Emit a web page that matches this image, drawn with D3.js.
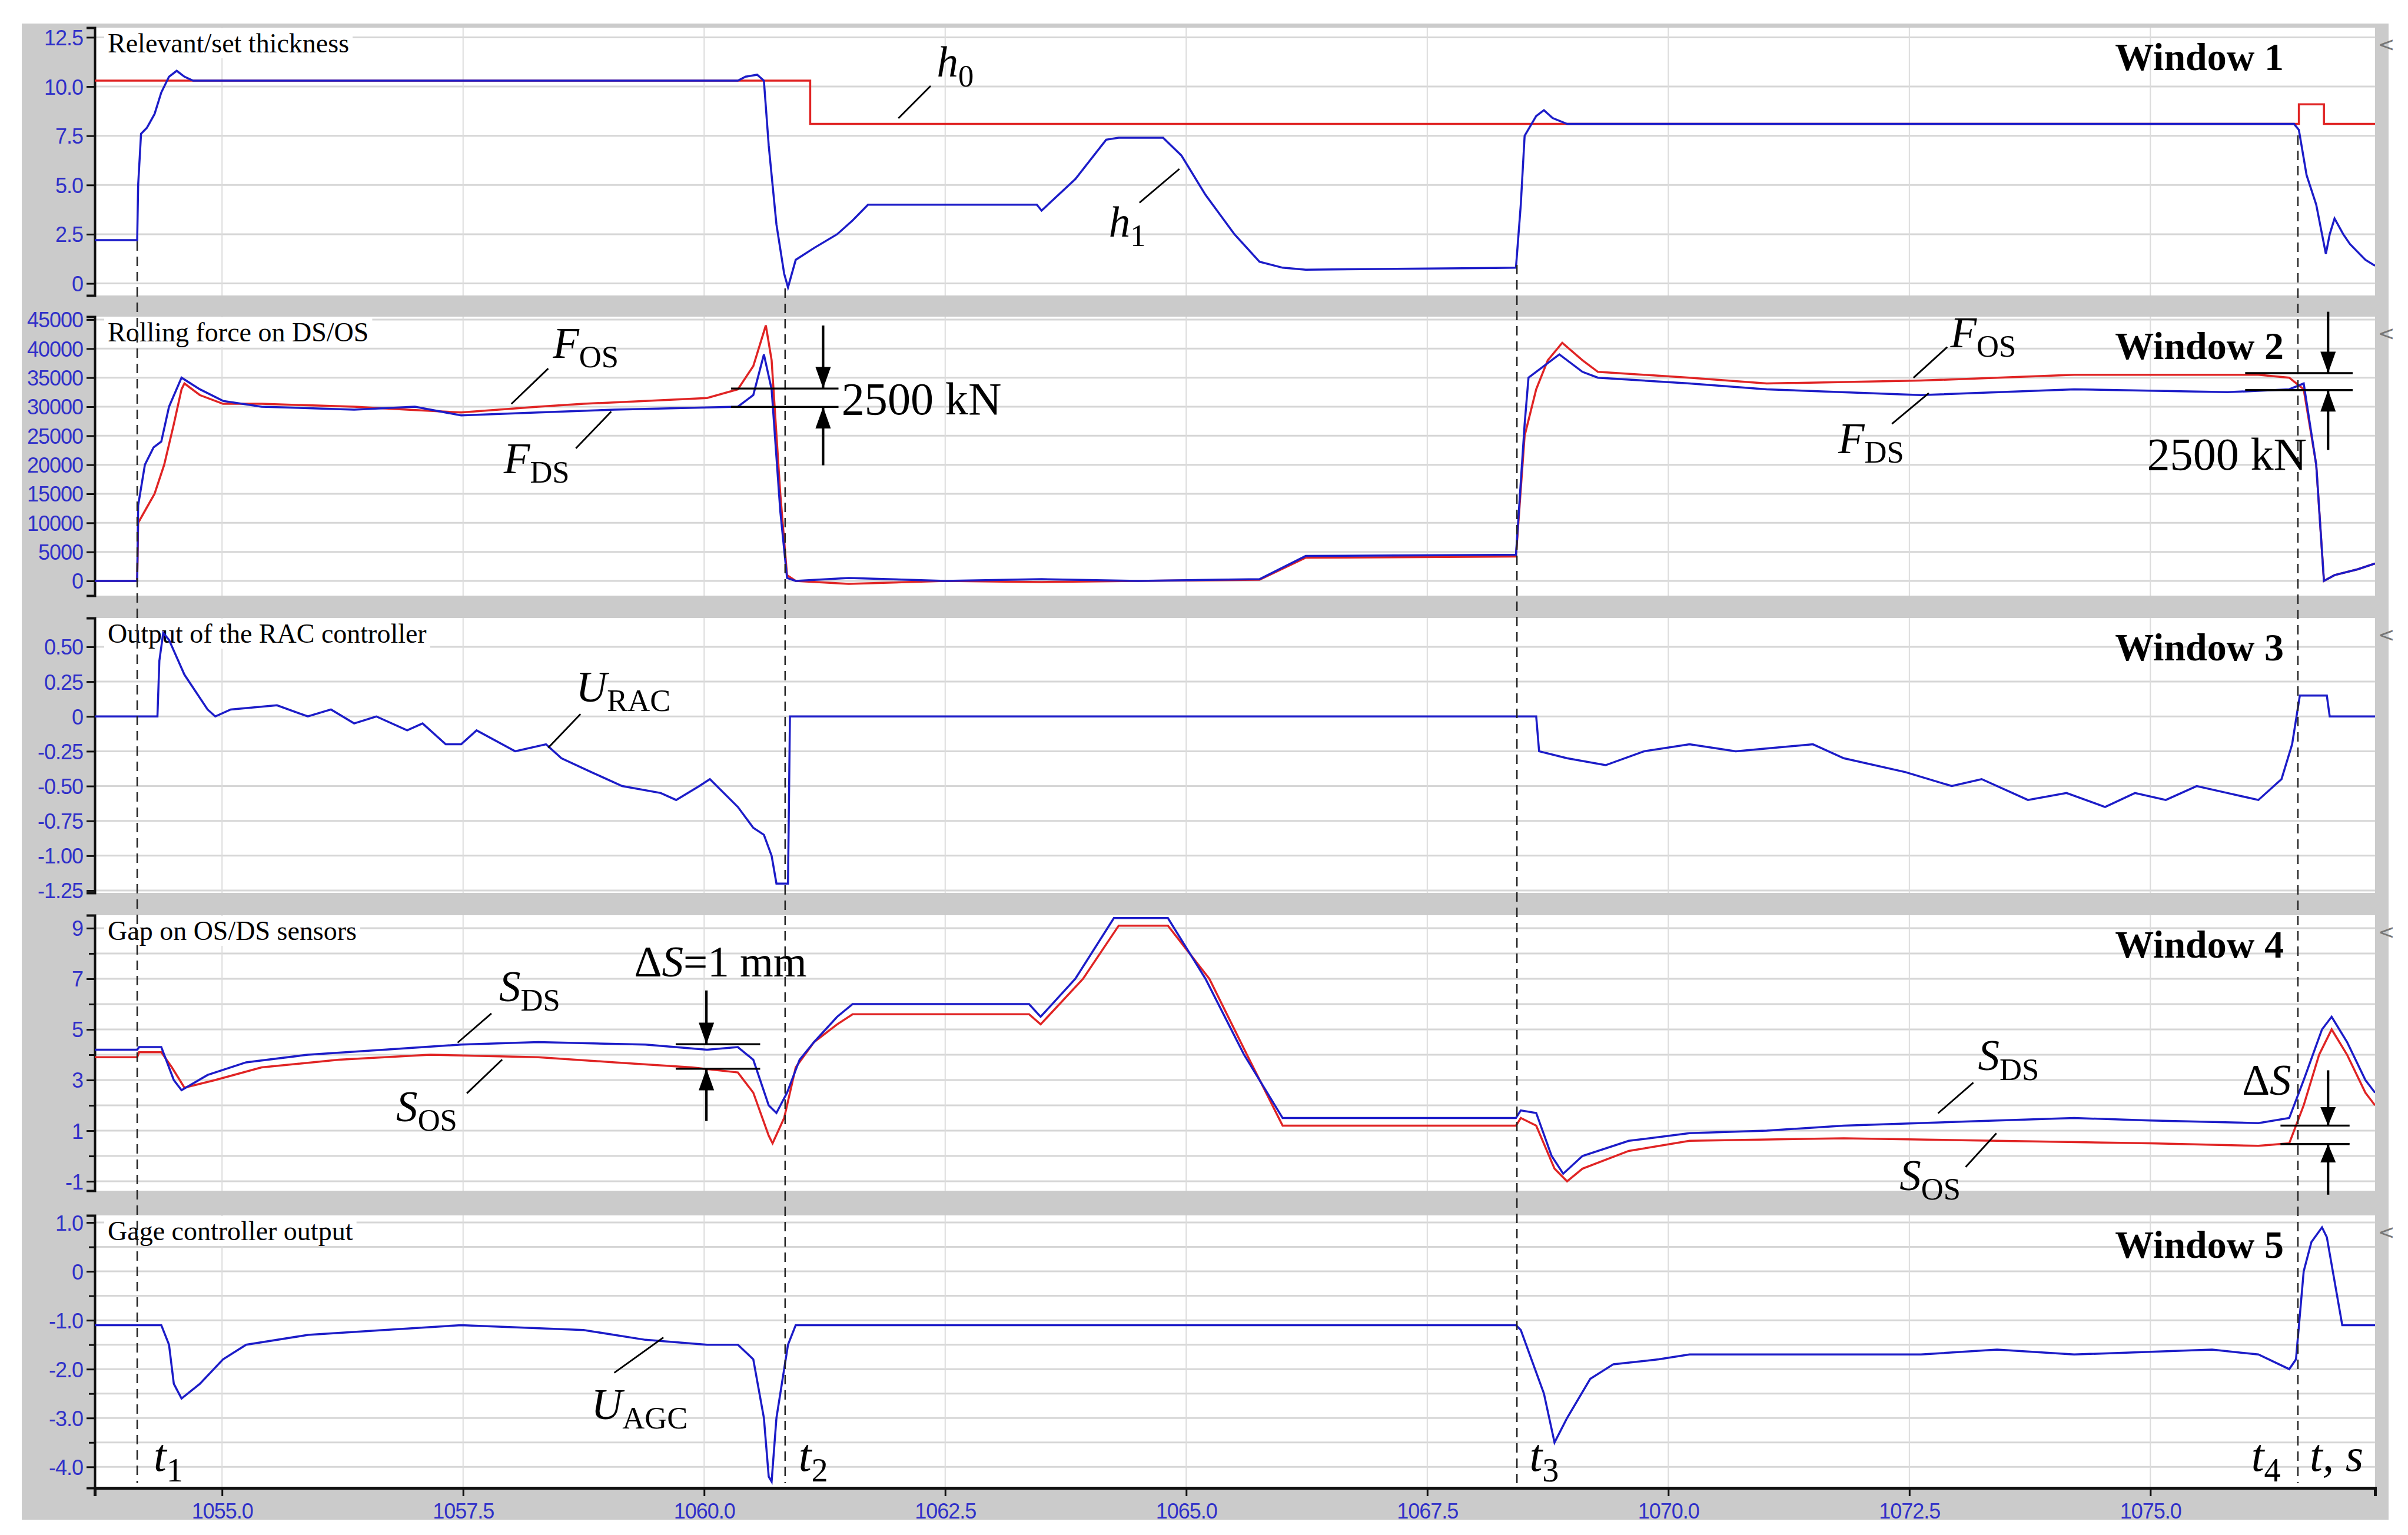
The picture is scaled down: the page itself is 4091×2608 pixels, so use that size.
<!DOCTYPE html>
<html>
<head>
<meta charset="utf-8">
<script src="https://cdn.jsdelivr.net/npm/d3@7"></script>
<style>
  html, body { margin: 0; padding: 0; background: #fff; }
  svg { display: block; }
</style>
</head>
<body>
<div id="chart"></div>
<script>
// Five stacked trend windows of the mill, shared time axis

// time grid on the x axis
const xTicks = [1055.0, 1057.5, 1060.0, 1062.5, 1065.0, 1067.5, 1070.0, 1072.5, 1075.0];
const eventTimes = [1054.12, 1060.84, 1068.43, 1076.53];
const eventNames = ['1', '2', '3', '4'];

// Window 1: set thickness h0 (red) and measured thickness h1 (blue), mm
const h0 = [[1053.68,10.3],[1061.10,10.3],[1061.10,8.1],[1076.54,8.1],[1076.54,9.1],[1076.80,9.1],[1076.80,8.1],[1077.33,8.1]];
const h1 = [[1053.68,2.2],[1054.12,2.2],[1054.13,5.0],[1054.16,7.6],[1054.22,7.9],[1054.30,8.6],[1054.37,9.7],[1054.45,10.5],[1054.53,10.8],[1054.61,10.5],[1054.70,10.3],[1055.5,10.3],[1060.35,10.3],[1060.43,10.5],[1060.55,10.6],[1060.62,10.3],[1060.67,7.0],[1060.75,3.0],[1060.83,0.5],[1060.87,-0.2],[1060.95,1.2],[1061.14,1.8],[1061.38,2.5],[1061.54,3.2],[1061.70,4.0],[1063.45,4.0],[1063.50,3.7],[1063.85,5.3],[1064.17,7.3],[1064.30,7.4],[1064.76,7.4],[1064.95,6.5],[1065.20,4.5],[1065.50,2.5],[1065.76,1.1],[1066.00,0.8],[1066.24,0.7],[1068.42,0.8],[1068.47,4.0],[1068.51,7.5],[1068.63,8.5],[1068.71,8.8],[1068.80,8.4],[1068.95,8.1],[1076.49,8.1],[1076.54,7.8],[1076.62,5.5],[1076.72,4.0],[1076.82,1.5],[1076.86,2.5],[1076.91,3.3],[1077.00,2.5],[1077.07,2.0],[1077.23,1.2],[1077.33,0.9]];

// Window 2: rolling force, kN
const fOS = [[1053.68,0],[1054.12,0],[1054.13,10000],[1054.30,15000],[1054.40,20000],[1054.50,27000],[1054.58,33000],[1054.61,34000],[1054.77,32000],[1055.01,30500],[1055.41,30500],[1056.37,30000],[1056.92,29500],[1057.48,29000],[1058.28,30000],[1058.75,30500],[1059.39,31000],[1060.03,31500],[1060.35,33000],[1060.51,37000],[1060.64,44000],[1060.70,38000],[1060.79,15000],[1060.86,1000],[1060.95,0],[1061.5,-500],[1062.5,0],[1063.5,-200],[1064.5,0],[1065.76,200],[1066.24,4000],[1068.42,4200],[1068.51,25000],[1068.63,33000],[1068.75,38000],[1068.90,41000],[1069.11,38000],[1069.27,36000],[1070.22,35000],[1071.02,34000],[1072.62,34500],[1074.21,35500],[1076.12,35500],[1076.44,35000],[1076.59,33000],[1076.72,20000],[1076.80,0],[1076.91,1000],[1077.15,2000],[1077.33,3000]];
const fDS = [[1053.68,0],[1054.12,0],[1054.13,13000],[1054.20,20000],[1054.29,23000],[1054.37,24000],[1054.45,30000],[1054.58,35000],[1054.77,33000],[1055.01,31000],[1055.41,30000],[1056.37,29500],[1057.00,30000],[1057.48,28500],[1058.28,29000],[1059.07,29500],[1060.35,30000],[1060.51,32000],[1060.62,39000],[1060.70,33000],[1060.79,12000],[1060.86,500],[1060.95,0],[1061.5,500],[1062.5,0],[1063.5,300],[1064.5,0],[1065.76,300],[1066.24,4300],[1068.42,4500],[1068.51,27000],[1068.55,35000],[1068.71,37000],[1068.87,39000],[1069.11,36000],[1069.27,35000],[1070.22,34000],[1071.02,33000],[1072.62,32000],[1074.21,33000],[1075.80,32500],[1076.44,33000],[1076.59,34000],[1076.72,20000],[1076.80,0],[1076.91,1000],[1077.15,2000],[1077.33,3000]];

// Window 3: RAC controller output
const uRAC = [[1053.68,0],[1054.33,0],[1054.35,0.4],[1054.39,0.6],[1054.45,0.55],[1054.61,0.3],[1054.85,0.05],[1054.93,0],[1055.09,0.05],[1055.57,0.08],[1055.89,0],[1056.13,0.05],[1056.37,-0.05],[1056.60,0],[1056.92,-0.1],[1057.08,-0.05],[1057.32,-0.2],[1057.48,-0.2],[1057.64,-0.1],[1058.04,-0.25],[1058.36,-0.2],[1058.52,-0.3],[1058.83,-0.4],[1059.15,-0.5],[1059.55,-0.55],[1059.71,-0.6],[1059.95,-0.5],[1060.06,-0.45],[1060.35,-0.65],[1060.51,-0.8],[1060.62,-0.85],[1060.70,-1.0],[1060.75,-1.2],[1060.87,-1.2],[1060.89,0],[1068.63,0],[1068.66,-0.25],[1068.95,-0.3],[1069.35,-0.35],[1069.75,-0.25],[1070.22,-0.2],[1070.70,-0.25],[1071.50,-0.2],[1071.82,-0.3],[1072.46,-0.4],[1072.94,-0.5],[1073.25,-0.45],[1073.73,-0.6],[1074.13,-0.55],[1074.53,-0.65],[1074.84,-0.55],[1075.16,-0.6],[1075.48,-0.5],[1075.80,-0.55],[1076.12,-0.6],[1076.36,-0.45],[1076.47,-0.2],[1076.55,0.15],[1076.83,0.15],[1076.86,0],[1077.33,0]];

// Window 4: gap on sensors, mm
const sDS = [[1053.68,4.2],[1054.12,4.2],[1054.14,4.3],[1054.37,4.3],[1054.50,3.0],[1054.58,2.6],[1054.85,3.2],[1055.25,3.7],[1055.89,4.0],[1056.68,4.2],[1057.48,4.4],[1058.28,4.5],[1059.39,4.4],[1060.03,4.2],[1060.35,4.3],[1060.51,3.8],[1060.67,2.0],[1060.75,1.7],[1060.86,2.5],[1060.99,3.8],[1061.14,4.5],[1061.38,5.5],[1061.54,6.0],[1063.37,6.0],[1063.49,5.5],[1063.85,7.0],[1064.25,9.4],[1064.81,9.4],[1065.20,7.0],[1065.60,4.0],[1066.00,1.5],[1068.42,1.5],[1068.47,1.8],[1068.63,1.7],[1068.79,0],[1068.91,-0.7],[1069.11,0],[1069.59,0.6],[1070.22,0.9],[1071.02,1.0],[1071.82,1.2],[1073.41,1.4],[1074.21,1.5],[1075.00,1.4],[1076.12,1.3],[1076.44,1.5],[1076.59,3.0],[1076.78,5.0],[1076.88,5.5],[1077.04,4.5],[1077.23,3.0],[1077.33,2.5]];
const sOS = [[1053.68,3.9],[1054.12,3.9],[1054.14,4.1],[1054.37,4.1],[1054.48,3.5],[1054.61,2.7],[1054.93,3.0],[1055.41,3.5],[1056.21,3.8],[1057.16,4.0],[1058.28,3.9],[1059.07,3.7],[1059.87,3.5],[1060.35,3.3],[1060.51,2.5],[1060.67,0.8],[1060.71,0.5],[1060.83,1.5],[1060.95,3.5],[1061.14,4.5],[1061.38,5.2],[1061.54,5.6],[1063.37,5.6],[1063.49,5.2],[1063.93,7.0],[1064.30,9.1],[1064.81,9.1],[1065.24,7.0],[1065.63,4.0],[1066.00,1.2],[1068.42,1.2],[1068.47,1.5],[1068.63,1.2],[1068.82,-0.5],[1068.95,-1.0],[1069.11,-0.5],[1069.59,0.2],[1070.22,0.6],[1071.82,0.7],[1073.41,0.6],[1075.00,0.5],[1076.12,0.4],[1076.44,0.5],[1076.59,2.0],[1076.75,4.0],[1076.88,5.0],[1077.04,4.0],[1077.23,2.5],[1077.33,2.0]];

// Window 5: gage controller output
const uAGC = [[1053.68,-1.1],[1054.37,-1.1],[1054.45,-1.5],[1054.50,-2.3],[1054.58,-2.6],[1054.77,-2.3],[1055.01,-1.8],[1055.25,-1.5],[1055.89,-1.3],[1056.68,-1.2],[1057.48,-1.1],[1058.75,-1.2],[1059.39,-1.4],[1060.03,-1.5],[1060.35,-1.5],[1060.51,-1.8],[1060.62,-3.0],[1060.67,-4.2],[1060.70,-4.3],[1060.75,-3.0],[1060.83,-2.0],[1060.87,-1.5],[1060.95,-1.1],[1068.42,-1.1],[1068.47,-1.2],[1068.71,-2.5],[1068.82,-3.5],[1068.95,-3.0],[1069.19,-2.2],[1069.43,-1.9],[1069.90,-1.8],[1070.22,-1.7],[1072.62,-1.7],[1073.41,-1.6],[1074.21,-1.7],[1075.64,-1.6],[1076.12,-1.7],[1076.44,-2.0],[1076.51,-1.8],[1076.59,0],[1076.67,0.6],[1076.78,0.9],[1076.83,0.7],[1076.99,-1.1],[1077.33,-1.1]];

// y tick labels per window
const w1Ticks = [0, 2.5, 5.0, 7.5, 10.0, 12.5];
const w2Ticks = [0, 5000, 10000, 15000, 20000, 25000, 30000, 35000, 40000, 45000];
const w3Ticks = [0.5, 0.25, 0, -0.25, -0.5, -0.75, -1.0, -1.25];
const w4Ticks = [9, 7, 5, 3, 1, -1];
const w5Ticks = [1.0, 0, -1.0, -2.0, -3.0, -4.0];

const W = 4091, H = 2608;
const K = 2.609; // annotation unit -> pixel
const left = 161, right = 4035;
const blue = '#1c1cc8', red = '#e02424';
const tickBlue = '#3030c8';
const hy = s => s.replace('\u2212', '-');

const svg = d3.select('#chart').append('svg')
  .attr('width', W).attr('height', H)
  .attr('viewBox', `0 0 ${W} ${H}`);

// gray frame
svg.append('rect').attr('x', 37).attr('y', 40).attr('width', 4021).attr('height', 2542).attr('fill', '#cbcbcb');

const x = d3.scaleLinear().domain([1053.68, 1077.33]).range([left, right]);

const windows = [
  { top: 47, bottom: 502, dom: [-0.61, 12.99], ticks: w1Ticks, grid: d3.range(0, 12.6, 2.5), minor: [], fmt: v => v === 0 ? '0' : d3.format('.1f')(v),
    series: [[h0, red], [h1, blue]], title: 'Relevant/set thickness', win: 'Window 1' },
  { top: 538, bottom: 1012, dom: [-2534, 45507], ticks: w2Ticks, grid: w2Ticks, minor: [], fmt: d3.format('d'),
    series: [[fOS, red], [fDS, blue]], title: 'Rolling force on DS/OS', win: 'Window 2' },
  { top: 1050, bottom: 1517, dom: [-1.267, 0.707], ticks: w3Ticks, grid: w3Ticks, minor: [], fmt: v => v === 0 ? '0' : d3.format('.2f')(v),
    series: [[uRAC, blue]], title: 'Output of the RAC controller', win: 'Window 3' },
  { top: 1555, bottom: 2023, dom: [-1.37, 9.51], ticks: w4Ticks, grid: d3.range(-1, 9.1, 1), minor: d3.range(0, 9, 2), fmt: d3.format('d'),
    series: [[sOS, red], [sDS, blue]], title: 'Gap on OS/DS sensors', win: 'Window 4' },
  { top: 2065, bottom: 2528, dom: [-4.43, 1.145], ticks: w5Ticks, grid: d3.range(-4, 1.01, 0.5), minor: d3.range(-3.5, 1, 1), fmt: v => v === 0 ? '0' : d3.format('.1f')(v),
    series: [[uAGC, blue]], title: 'Gage controller output', win: 'Window 5' }
];

windows.forEach(w => {
  const y = d3.scaleLinear().domain(w.dom).range([w.bottom, w.top]);
  const g = svg.append('g');
  g.append('rect').attr('x', left).attr('y', w.top).attr('width', right - left).attr('height', w.bottom - w.top).attr('fill', '#fff');

  // grid
  g.selectAll('line.hg').data(w.grid).join('line')
    .attr('x1', left).attr('x2', right).attr('y1', d => y(d)).attr('y2', d => y(d))
    .attr('stroke', '#d6d6d6').attr('stroke-width', 3);
  g.selectAll('line.vg').data(xTicks).join('line')
    .attr('x1', d => x(d)).attr('x2', d => x(d)).attr('y1', w.top).attr('y2', w.bottom)
    .attr('stroke', '#dcdcdc').attr('stroke-width', 2);

  // title with white backing
  const tt = g.append('text').attr('x', left + 22).attr('y', w.top + 42)
    .attr('font-family', 'Liberation Serif, Times New Roman, serif').attr('font-size', 46).text(w.title);
  const bb = tt.node().getBBox();
  g.insert('rect', 'text').attr('x', bb.x - 6).attr('y', bb.y).attr('width', bb.width + 12).attr('height', bb.height).attr('fill', '#fff');

  g.append('text').attr('x', 3880).attr('y', w.top + 72).attr('text-anchor', 'end')
    .attr('font-family', 'Liberation Serif, Times New Roman, serif').attr('font-weight', 'bold').attr('font-size', 66).text(w.win);
  g.append('text').attr('x', 4040).attr('y', w.top + 40).attr('fill', '#777')
    .attr('font-family', 'DejaVu Sans, sans-serif').attr('font-size', 34).text('<');

  // y axis
  const ax = g.append('g').attr('transform', `translate(${left},0)`)
    .call(d3.axisLeft(y).tickValues(w.ticks).tickFormat(d => hy(w.fmt(d))).tickSize(14).tickPadding(6));
  ax.select('.domain').attr('stroke', '#111').attr('stroke-width', 4);
  ax.selectAll('.tick line').attr('stroke', '#111').attr('stroke-width', 3);
  ax.selectAll('.tick text').attr('fill', tickBlue).attr('font-family', 'Liberation Sans Narrow, Liberation Sans, Arial, sans-serif')
    .attr('font-size', 36).attr('letter-spacing', -1).attr('dy', '0.36em');
  if (w.minor.length) {
    g.append('g').attr('transform', `translate(${left},0)`)
      .call(d3.axisLeft(y).tickValues(w.minor).tickFormat('').tickSize(10))
      .call(s => { s.select('.domain').remove(); s.selectAll('line').attr('stroke', '#111').attr('stroke-width', 3); });
  }

  // series
  const line = d3.line().x(d => x(d[0])).y(d => y(d[1]));
  const clipId = 'clip' + w.top;
  svg.append('clipPath').attr('id', clipId).append('rect')
    .attr('x', left).attr('y', w.top).attr('width', right - left).attr('height', w.bottom - w.top);
  w.series.forEach(([data, color]) => {
    g.append('path').datum(data).attr('d', line).attr('fill', 'none')
      .attr('stroke', color).attr('stroke-width', 3.5).attr('clip-path', `url(#${clipId})`);
  });
});

// bottom axis
const xa = svg.append('g').attr('transform', `translate(0,2528)`)
  .call(d3.axisBottom(x).tickValues(xTicks).tickFormat(d3.format('.1f')).tickSize(14).tickPadding(12));
xa.select('.domain').attr('stroke', '#111').attr('stroke-width', 5);
xa.selectAll('.tick line').attr('stroke', '#111').attr('stroke-width', 3);
xa.selectAll('.tick text').attr('fill', tickBlue).attr('font-family', 'Liberation Sans Narrow, Liberation Sans, Arial, sans-serif')
  .attr('font-size', 36).attr('letter-spacing', -1);

// event dashed lines
const dashTop = [410, 490, 450, 230];
svg.selectAll('line.ev').data(eventTimes).join('line')
  .attr('x1', d => x(d)).attr('x2', d => x(d))
  .attr('y1', (d, i) => dashTop[i]).attr('y2', 2520)
  .attr('stroke', '#222').attr('stroke-width', 2.5).attr('stroke-dasharray', '16,10');

// annotations (positions in 1568-wide units)
const ann = svg.append('g').attr('transform', `scale(${K})`)
  .attr('font-family', 'Liberation Serif, Times New Roman, serif').attr('fill', '#000');

function label(xp, yp, main, sub, size) {
  const t = ann.append('text').attr('x', xp).attr('y', yp).attr('font-size', size);
  t.append('tspan').attr('font-style', 'italic').text(main);
  if (sub) t.append('tspan').attr('font-size', size * 0.72).attr('dy', size * 0.22).text(sub);
}
function lead(x1, y1, x2, y2) {
  ann.append('line').attr('x1', x1).attr('y1', y1).attr('x2', x2).attr('y2', y2)
    .attr('stroke', '#000').attr('stroke-width', 1.1);
}
function gauge(xc, y1, y2, ya, yb, xa1, xa2, headLen) {
  ann.append('line').attr('x1', xa1).attr('x2', xa2).attr('y1', ya).attr('y2', ya).attr('stroke', '#000').attr('stroke-width', 1.3);
  ann.append('line').attr('x1', xa1).attr('x2', xa2).attr('y1', yb).attr('y2', yb).attr('stroke', '#000').attr('stroke-width', 1.3);
  ann.append('line').attr('x1', xc).attr('x2', xc).attr('y1', y1).attr('y2', ya).attr('stroke', '#000').attr('stroke-width', 1.6);
  ann.append('line').attr('x1', xc).attr('x2', xc).attr('y1', yb).attr('y2', y2).attr('stroke', '#000').attr('stroke-width', 1.6);
  ann.append('path').attr('d', `M${xc - 5},${ya - headLen}L${xc + 5},${ya - headLen}L${xc},${ya}Z`);
  ann.append('path').attr('d', `M${xc - 5},${yb + headLen}L${xc + 5},${yb + headLen}L${xc},${yb}Z`);
}

label(610, 50, 'h', '0', 28); lead(585, 77, 606, 56);
label(722, 154, 'h', '1', 28); lead(742, 132, 768, 110);

label(360, 233, 'F', 'OS', 28); lead(333, 263, 357, 240);
label(328, 308, 'F', 'DS', 28); lead(375, 292, 398, 268);
gauge(536, 212, 303, 253, 265, 476, 546, 14);
ann.append('text').attr('x', 548).attr('y', 270).attr('font-size', 30).text('2500 kN');
label(1270, 226, 'F', 'OS', 28); lead(1246, 246, 1268, 226);
label(1197, 295, 'F', 'DS', 28); lead(1232, 276, 1256, 256);
gauge(1516, 203, 293, 243, 254, 1462, 1532, 14);
ann.append('text').attr('x', 1398).attr('y', 306).attr('font-size', 30).text('2500 kN');

label(375, 457, 'U', 'RAC', 28); lead(357, 487, 378, 465);

label(325, 652, 'S', 'DS', 28); lead(298, 679, 320, 660);
label(258, 730, 'S', 'OS', 28); lead(304, 712, 327, 690);
gauge(460, 645, 730, 680, 696, 440, 495, 14);
{
  const t = ann.append('text').attr('x', 413).attr('y', 636).attr('font-size', 28);
  t.append('tspan').text('Δ');
  t.append('tspan').attr('font-style', 'italic').text('S');
  t.append('tspan').text('=1 mm');
}
label(1288, 697, 'S', 'DS', 28); lead(1262, 725, 1285, 705);
label(1237, 775, 'S', 'OS', 28); lead(1280, 760, 1300, 738);
gauge(1516, 697, 778, 733, 745, 1485, 1530, 12);
{
  const t = ann.append('text').attr('x', 1460).attr('y', 713).attr('font-size', 28);
  t.append('tspan').text('Δ');
  t.append('tspan').attr('font-style', 'italic').text('S');
}

label(385, 924, 'U', 'AGC', 28); lead(400, 894, 432, 871);

const evLabelX = [100, 520, 996, 1466];
eventNames.forEach((n, i) => label(evLabelX[i], 958, 't', n, 30));
ann.append('text').attr('x', 1504).attr('y', 958).attr('font-size', 30).attr('font-style', 'italic').text('t, s');
</script>
</body>
</html>
